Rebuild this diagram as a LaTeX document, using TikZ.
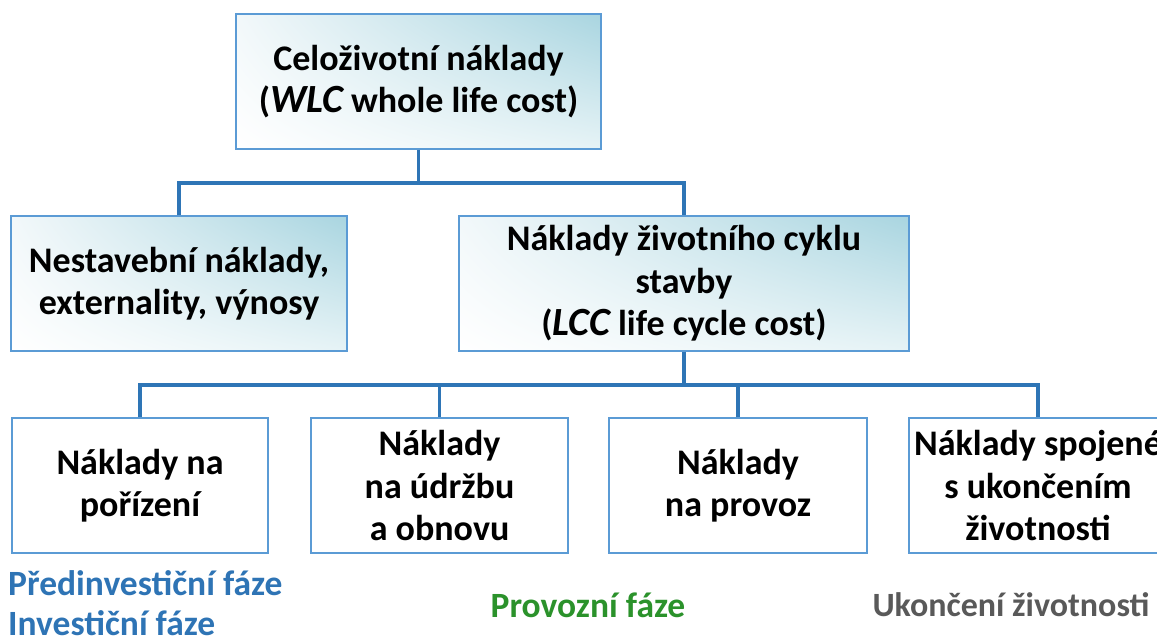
\documentclass[tikz,border=0pt]{standalone}
\usepackage{fontspec}
\setmainfont{Carlito}
\usetikzlibrary{shadings}
\definecolor{linkblue}{HTML}{2E75B6}
\definecolor{boxedge}{HTML}{5B9BD5}
\definecolor{shadeA}{HTML}{A9D5E0}
\definecolor{shadeB}{HTML}{F2F8FA}
\definecolor{shadeC}{HTML}{E6F3F6}
\definecolor{phaseblue}{HTML}{2E74B5}
\definecolor{phasegreen}{HTML}{2B922B}
\definecolor{phasegray}{HTML}{595959}
\tikzset{
  box/.style={draw=boxedge, line width=1.3pt, fill=white, align=center, inner sep=0pt,
    font=\fontsize{36}{42.5}\selectfont\bfseries},
  shadedbox/.style={box, upper right=shadeA, upper left=shadeB, lower right=shadeC, lower left=white},
  link/.style={draw=linkblue, line width=3.5pt, line join=miter},
  phase/.style={font=\fontsize{35.5}{40}\selectfont\bfseries, inner sep=0pt},
}
\newcommand{\abbr}[1]{{\fontsize{40}{42.5}\selectfont\itshape #1}}
\begin{document}
\begin{tikzpicture}[x=1pt,y=-1pt]
\clip (0,0) rectangle (1157,642);
\fill[white] (0,0) rectangle (1157,642);
\coordinate (y1) at (0,183);
\coordinate (y2) at (0,385);
\node[shadedbox, minimum width=365, minimum height=135] (top) at (418.5,81.5)
  {Celoživotní náklady\\(\abbr{WLC} whole life cost)};
\node[shadedbox, minimum width=336, minimum height=135] (left) at (179,283.5)
  {Nestavební náklady,\\externality, výnosy};
\node[shadedbox, minimum width=450, minimum height=135] (right) at (684,283.5)
  {Náklady životního cyklu\\stavby\\(\abbr{LCC} life cycle cost)};
\node[box, minimum width=256, minimum height=135] (b1) at (140,485.5)
  {Náklady na\\pořízení};
\node[box, minimum width=257, minimum height=135] (b2) at (439.5,485.5)
  {Náklady\\na údržbu\\a obnovu};
\node[box, minimum width=258, minimum height=135] (b3) at (738,485.5)
  {Náklady\\na provoz};
\node[box, minimum width=258, minimum height=135] (b4) at (1038,485.5)
  {Náklady spojené\\s ukončením\\životnosti};
\draw[link] (top.south) -- (top.south |- y1);
\draw[link] (left.north) |- (right.north |- y1) -- (right.north);
\draw[link] (right.south) -- (right.south |- y2);
\draw[link] (b1.north) |- (b4.north |- y2) -- (b4.north);
\draw[link] (b2.north) -- (b2.north |- y2);
\draw[link] (b3.north) -- (b3.north |- y2);
\node[phase, text=phaseblue, anchor=west, align=left] (pre) at (8,603.5)
  {Předinvestiční fáze\\Investiční fáze};
\node[phase, text=phasegreen] (prov) at (588,605) {Provozní fáze};
\node[phase, text=phasegray, font=\fontsize{34}{40}\selectfont\bfseries] (ukon) at (1011,605) {Ukončení životnosti};
\end{tikzpicture}
\end{document}
